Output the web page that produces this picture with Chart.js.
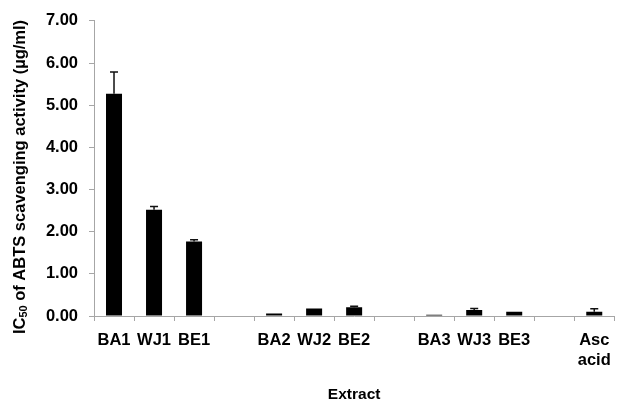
<!DOCTYPE html>
<html>
<head>
<meta charset="utf-8">
<script src="https://cdn.jsdelivr.net/npm/chart.js@4/dist/chart.umd.min.js"></script>
<style>
  html, body { margin: 0; padding: 0; background: #fff; }
  #wrap { width: 621px; height: 407px; }
</style>
</head>
<body>
<div id="wrap"><canvas id="abtsChart" width="621" height="407"></canvas></div>
<script>
// data
const extracts = ["BA1", "WJ1", "BE1", "", "BA2", "WJ2", "BE2", "", "BA3", "WJ3", "BE3", "", ["Asc", "acid"]];
const ic50Values = [5.27, 2.52, 1.77, null, 0.06, 0.18, 0.21, null, 0.03, 0.14, 0.10, null, 0.10];
const ic50Errors = [0.52, 0.08, 0.04, null, 0.00, 0.00, 0.02, null, 0.00, 0.04, 0.00, null, 0.07];
const yTicks = [0, 1, 2, 3, 4, 5, 6, 7];

const axisGrey = "#a6a6a6";
const boldFont = "'Liberation Sans', Arial, sans-serif";

// error bars, only the upper half like the excel chart
const errorBars = {
  id: "errorBars",
  afterDatasetsDraw(chart) {
    const ctx = chart.ctx;
    const yScale = chart.scales.y;
    const meta = chart.getDatasetMeta(0);
    ctx.save();
    ctx.strokeStyle = "#111";
    ctx.lineWidth = 1.5;
    meta.data.forEach(function (bar, i) {
      const v = ic50Values[i];
      const e = ic50Errors[i];
      if (v === null || !e) return;
      const y0 = yScale.getPixelForValue(v);
      const y1 = yScale.getPixelForValue(v + e);
      ctx.beginPath();
      ctx.moveTo(bar.x, y0);
      ctx.lineTo(bar.x, y1);
      ctx.moveTo(bar.x - 4, y1);
      ctx.lineTo(bar.x + 4, y1);
      ctx.stroke();
    });
    ctx.restore();
  },
};

// y title with subscript 50
const yTitle = {
  id: "yTitle",
  afterDraw(chart) {
    const ctx = chart.ctx;
    const big = "bold 16.5px " + boldFont;
    const small = "bold 11px " + boldFont;
    const parts = [
      { t: "IC", f: big, dy: 0 },
      { t: "50", f: small, dy: 4 },
      { t: " of ABTS scavenging activity (\u00b5g/ml)", f: big, dy: 0 },
    ];
    let total = 0;
    parts.forEach(function (p) {
      ctx.font = p.f;
      p.w = ctx.measureText(p.t).width;
      total += p.w;
    });
    ctx.save();
    ctx.translate(20, 177);
    ctx.rotate(-Math.PI / 2);
    ctx.fillStyle = "#000";
    ctx.textBaseline = "middle";
    ctx.textAlign = "left";
    let x = -total / 2;
    parts.forEach(function (p) {
      ctx.font = p.f;
      ctx.fillText(p.t, x, p.dy);
      x += p.w;
    });
    ctx.restore();
  },
};

const abtsConfig = {
  type: "bar",
  data: {
    labels: extracts,
    datasets: [
      {
        label: "IC50",
        data: ic50Values,
        backgroundColor: "#000",
        borderWidth: 0,
        barPercentage: 0.4,
        categoryPercentage: 1,
      },
    ],
  },
  options: {
    responsive: false,
    animation: false,
    layout: { padding: { top: 13, right: 6, left: 0, bottom: 0 } },
    plugins: {
      legend: { display: false },
      tooltip: { enabled: false },
    },
    scales: {
      x: {
        offset: true,
        grid: {
          offset: true,
          drawOnChartArea: false,
          drawTicks: true,
          tickLength: 5,
          color: axisGrey,
        },
        border: { color: axisGrey, width: 1 },
        ticks: {
          color: "#000",
          padding: 10,
          maxRotation: 0,
          autoSkip: false,
          font: { family: boldFont, size: 16.5, weight: "bold" },
        },
        title: {
          display: true,
          text: "Extract",
          color: "#000",
          padding: { top: 0, bottom: 3 },
          font: { family: boldFont, size: 15.5, weight: "bold" },
        },
        afterFit(scale) {
          scale.height = 91;
        },
      },
      y: {
        min: 0,
        max: 7,
        afterBuildTicks(scale) {
          scale.ticks = yTicks.map(function (v) { return { value: v }; });
        },
        grid: {
          drawOnChartArea: false,
          drawTicks: true,
          tickLength: 5,
          color: axisGrey,
        },
        border: { color: axisGrey, width: 1 },
        ticks: {
          color: "#000",
          padding: 11,
          font: { family: boldFont, size: 16.5, weight: "bold" },
          callback: function (v) { return Number(v).toFixed(2); },
        },
        afterFit(scale) {
          scale.width = 94;
        },
      },
    },
  },
  plugins: [errorBars, yTitle],
};

const abtsChart = new Chart(document.getElementById("abtsChart"), abtsConfig);
</script>
</body>
</html>
